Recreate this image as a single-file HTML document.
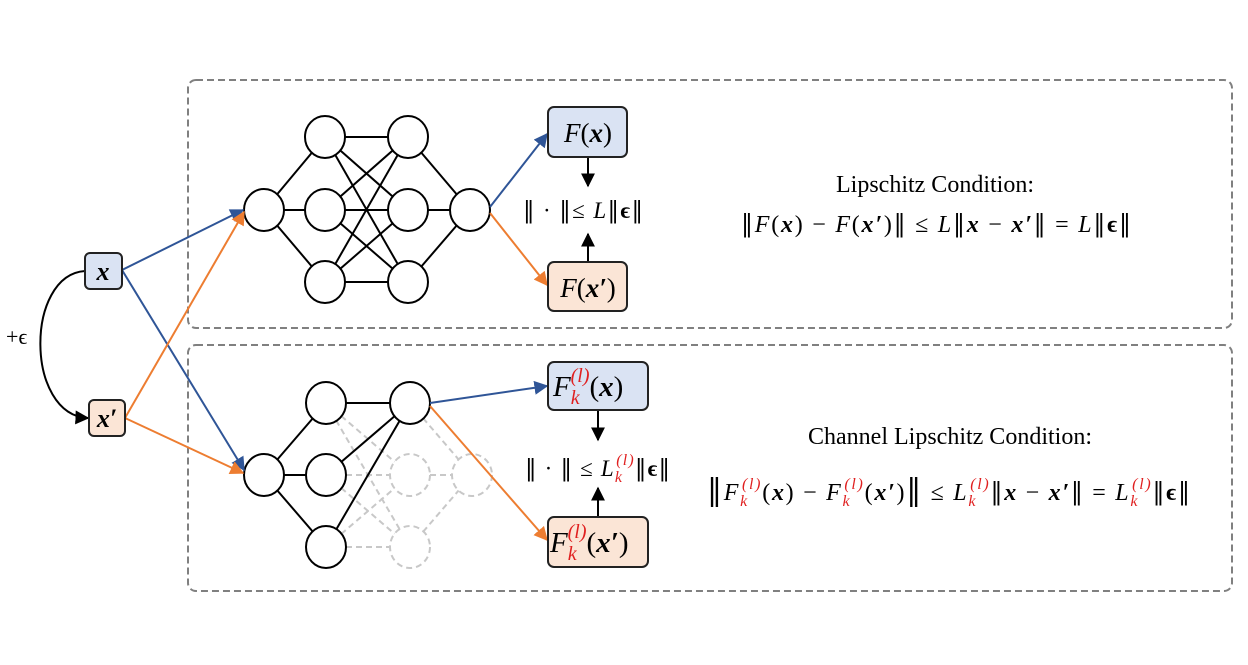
<!DOCTYPE html>
<html><head><meta charset="utf-8"><style>
html,body{margin:0;padding:0;background:#fff;}
svg{display:block;}
.m{font-family:"Liberation Serif",serif;}
.n{font-family:"DejaVu Serif",serif;}
</style></head><body>
<svg width="1248" height="665" viewBox="0 0 1248 665" xmlns="http://www.w3.org/2000/svg">
<defs>
<marker id="ab" viewBox="0 0 10 10" refX="9" refY="5" markerWidth="7" markerHeight="7" orient="auto"><path d="M0,0 L10,5 L0,10 z" fill="#2f5597"/></marker>
<marker id="ao" viewBox="0 0 10 10" refX="9" refY="5" markerWidth="7" markerHeight="7" orient="auto"><path d="M0,0 L10,5 L0,10 z" fill="#ed7d31"/></marker>
<marker id="ak" viewBox="0 0 10 10" refX="9" refY="5" markerWidth="7" markerHeight="7" orient="auto"><path d="M0,0 L10,5 L0,10 z" fill="#000"/></marker>
</defs>
<rect x="188" y="80" width="1044" height="248" rx="8" fill="none" stroke="#808080" stroke-width="2" stroke-dasharray="7,4"/>
<rect x="188" y="345" width="1044" height="246" rx="8" fill="none" stroke="#808080" stroke-width="2" stroke-dasharray="7,4"/>

<g stroke="#000" stroke-width="2">
<line x1="264" y1="210" x2="325" y2="137"/><line x1="264" y1="210" x2="325" y2="210"/><line x1="264" y1="210" x2="325" y2="282"/>
<line x1="325" y1="137" x2="408" y2="137"/><line x1="325" y1="137" x2="408" y2="210"/><line x1="325" y1="137" x2="408" y2="282"/>
<line x1="325" y1="210" x2="408" y2="137"/><line x1="325" y1="210" x2="408" y2="210"/><line x1="325" y1="210" x2="408" y2="282"/>
<line x1="325" y1="282" x2="408" y2="137"/><line x1="325" y1="282" x2="408" y2="210"/><line x1="325" y1="282" x2="408" y2="282"/>
<line x1="408" y1="137" x2="470" y2="210"/><line x1="408" y1="210" x2="470" y2="210"/><line x1="408" y1="282" x2="470" y2="210"/>
<g fill="#fff">
<ellipse cx="264" cy="210" rx="20" ry="21"/>
<ellipse cx="325" cy="137" rx="20" ry="21"/><ellipse cx="325" cy="210" rx="20" ry="21"/><ellipse cx="325" cy="282" rx="20" ry="21"/>
<ellipse cx="408" cy="137" rx="20" ry="21"/><ellipse cx="408" cy="210" rx="20" ry="21"/><ellipse cx="408" cy="282" rx="20" ry="21"/>
<ellipse cx="470" cy="210" rx="20" ry="21"/>
</g></g>

<g stroke-width="2">
<g stroke="#c8c8c8" stroke-dasharray="6,4">
<line x1="326" y1="403" x2="410" y2="475"/><line x1="326" y1="403" x2="410" y2="547"/>
<line x1="326" y1="475" x2="410" y2="475"/><line x1="326" y1="475" x2="410" y2="547"/>
<line x1="326" y1="547" x2="410" y2="475"/><line x1="326" y1="547" x2="410" y2="547"/>
<line x1="410" y1="403" x2="472" y2="475"/><line x1="410" y1="475" x2="472" y2="475"/><line x1="410" y1="547" x2="472" y2="475"/>
<ellipse cx="410" cy="475" rx="20" ry="21" fill="#fff"/><ellipse cx="410" cy="547" rx="20" ry="21" fill="#fff"/><ellipse cx="472" cy="475" rx="20" ry="21" fill="#fff"/>
</g>
<g stroke="#000">
<line x1="264" y1="475" x2="326" y2="403"/><line x1="264" y1="475" x2="326" y2="475"/><line x1="264" y1="475" x2="326" y2="547"/>
<line x1="326" y1="403" x2="410" y2="403"/><line x1="326" y1="475" x2="410" y2="403"/><line x1="326" y1="547" x2="410" y2="403"/>
<g fill="#fff">
<ellipse cx="264" cy="475" rx="20" ry="21"/>
<ellipse cx="326" cy="403" rx="20" ry="21"/><ellipse cx="326" cy="475" rx="20" ry="21"/><ellipse cx="326" cy="547" rx="20" ry="21"/>
<ellipse cx="410" cy="403" rx="20" ry="21"/>
</g></g></g>

<g stroke-width="2" fill="none">
<line x1="122" y1="270" x2="243" y2="210" stroke="#2f5597" marker-end="url(#ab)"/>
<line x1="122" y1="270" x2="244" y2="470" stroke="#2f5597" marker-end="url(#ab)"/>
<line x1="125" y1="418" x2="244" y2="212" stroke="#ed7d31" marker-end="url(#ao)"/>
<line x1="125" y1="418" x2="243" y2="473" stroke="#ed7d31" marker-end="url(#ao)"/>
<path d="M85,271 C25,275 25,415 88,418" stroke="#000" marker-end="url(#ak)"/>
</g>
<text class="m" x="6" y="344" font-size="22">+ϵ</text>

<g stroke-width="2" fill="none">
<line x1="490" y1="207" x2="547" y2="134" stroke="#2f5597" marker-end="url(#ab)"/>
<line x1="490" y1="213" x2="547" y2="285" stroke="#ed7d31" marker-end="url(#ao)"/>
<line x1="430" y1="403" x2="547" y2="386" stroke="#2f5597" marker-end="url(#ab)"/>
<line x1="430" y1="406" x2="547" y2="540" stroke="#ed7d31" marker-end="url(#ao)"/>
<line x1="588" y1="157" x2="588" y2="186" stroke="#000" marker-end="url(#ak)"/>
<line x1="588" y1="262" x2="588" y2="234" stroke="#000" marker-end="url(#ak)"/>
<line x1="598" y1="410" x2="598" y2="440" stroke="#000" marker-end="url(#ak)"/>
<line x1="598" y1="516" x2="598" y2="488" stroke="#000" marker-end="url(#ak)"/>
</g>

<g stroke="#222" stroke-width="2">
<rect x="85" y="253" width="37" height="36" rx="5" fill="#dae3f3"/>
<rect x="89" y="400" width="36" height="36" rx="5" fill="#fbe5d6"/>
</g>
<text class="m" x="103" y="280" font-size="26" font-style="italic" font-weight="bold" text-anchor="middle">x</text>
<text class="m" x="107" y="427" font-size="26" font-style="italic" font-weight="bold" text-anchor="middle">x′</text>

<g stroke="#222" stroke-width="2">
<rect x="548" y="107" width="79" height="50" rx="6" fill="#dae3f3"/>
<rect x="548" y="262" width="79" height="49" rx="6" fill="#fbe5d6"/>
<rect x="548" y="362" width="100" height="48" rx="6" fill="#dae3f3"/>
<rect x="548" y="517" width="100" height="50" rx="6" fill="#fbe5d6"/>
</g>
<text class="m" x="588" y="142" font-size="27" text-anchor="middle"><tspan font-style="italic">F</tspan>(<tspan font-style="italic" font-weight="bold">x</tspan>)</text>
<text class="m" x="588" y="297" font-size="27" text-anchor="middle"><tspan font-style="italic">F</tspan>(<tspan font-style="italic" font-weight="bold">x′</tspan>)</text>
<text class="m" x="553" y="396" font-size="29"><tspan font-style="italic">F</tspan><tspan fill="#e02020" font-size="20" font-style="italic" dy="8">k</tspan><tspan fill="#e02020" font-size="20" font-style="italic" dx="-9" dy="-22">(l)</tspan><tspan dy="14">(</tspan><tspan font-style="italic" font-weight="bold">x</tspan>)</text>
<text class="m" x="550" y="552" font-size="29"><tspan font-style="italic">F</tspan><tspan fill="#e02020" font-size="20" font-style="italic" dy="8">k</tspan><tspan fill="#e02020" font-size="20" font-style="italic" dx="-9" dy="-22">(l)</tspan><tspan dy="14">(</tspan><tspan font-style="italic" font-weight="bold">x′</tspan>)</text>

<text class="m" x="523" y="218" font-size="23" textLength="120"><tspan class="n">‖</tspan> · <tspan class="n">‖</tspan>≤ <tspan font-style="italic">L</tspan><tspan class="n">‖</tspan><tspan font-weight="bold">ϵ</tspan><tspan class="n">‖</tspan></text>
<text class="m" x="525" y="476" font-size="23" textLength="145"><tspan class="n">‖</tspan> · <tspan class="n">‖</tspan> ≤ <tspan font-style="italic">L</tspan><tspan fill="#e02020" font-size="16" font-style="italic" dy="6">k</tspan><tspan fill="#e02020" font-size="16" font-style="italic" dx="-7" dy="-17">(l)</tspan><tspan dy="11" class="n">‖</tspan><tspan font-weight="bold">ϵ</tspan><tspan class="n">‖</tspan></text>

<text class="m" x="935" y="192" font-size="24" text-anchor="middle">Lipschitz Condition:</text>
<text class="m" x="741" y="232" font-size="24" textLength="390"><tspan class="n">‖</tspan><tspan font-style="italic">F</tspan>(<tspan font-style="italic" font-weight="bold">x</tspan>) − <tspan font-style="italic">F</tspan>(<tspan font-style="italic" font-weight="bold">x′</tspan>)<tspan class="n">‖</tspan> ≤ <tspan font-style="italic">L</tspan><tspan class="n">‖</tspan><tspan font-style="italic" font-weight="bold">x</tspan> − <tspan font-style="italic" font-weight="bold">x′</tspan><tspan class="n">‖</tspan> = <tspan font-style="italic">L</tspan><tspan class="n">‖</tspan><tspan font-weight="bold">ϵ</tspan><tspan class="n">‖</tspan></text>
<text class="m" x="950" y="444" font-size="24" text-anchor="middle">Channel Lipschitz Condition:</text>
<text class="m" x="707" y="500" font-size="24" textLength="483"><tspan class="n" font-size="30">‖</tspan><tspan font-style="italic">F</tspan><tspan fill="#e02020" font-size="16" font-style="italic" dy="6">k</tspan><tspan fill="#e02020" font-size="16" font-style="italic" dx="-7" dy="-17">(l)</tspan><tspan dy="11">(</tspan><tspan font-style="italic" font-weight="bold">x</tspan>) − <tspan font-style="italic">F</tspan><tspan fill="#e02020" font-size="16" font-style="italic" dy="6">k</tspan><tspan fill="#e02020" font-size="16" font-style="italic" dx="-7" dy="-17">(l)</tspan><tspan dy="11">(</tspan><tspan font-style="italic" font-weight="bold">x′</tspan>)<tspan class="n" font-size="30">‖</tspan> ≤ <tspan font-style="italic">L</tspan><tspan fill="#e02020" font-size="16" font-style="italic" dy="6">k</tspan><tspan fill="#e02020" font-size="16" font-style="italic" dx="-7" dy="-17">(l)</tspan><tspan dy="11" class="n">‖</tspan><tspan font-style="italic" font-weight="bold">x</tspan> − <tspan font-style="italic" font-weight="bold">x′</tspan><tspan class="n">‖</tspan> = <tspan font-style="italic">L</tspan><tspan fill="#e02020" font-size="16" font-style="italic" dy="6">k</tspan><tspan fill="#e02020" font-size="16" font-style="italic" dx="-7" dy="-17">(l)</tspan><tspan dy="11" class="n">‖</tspan><tspan font-weight="bold">ϵ</tspan><tspan class="n">‖</tspan></text>
</svg>
</body></html>
